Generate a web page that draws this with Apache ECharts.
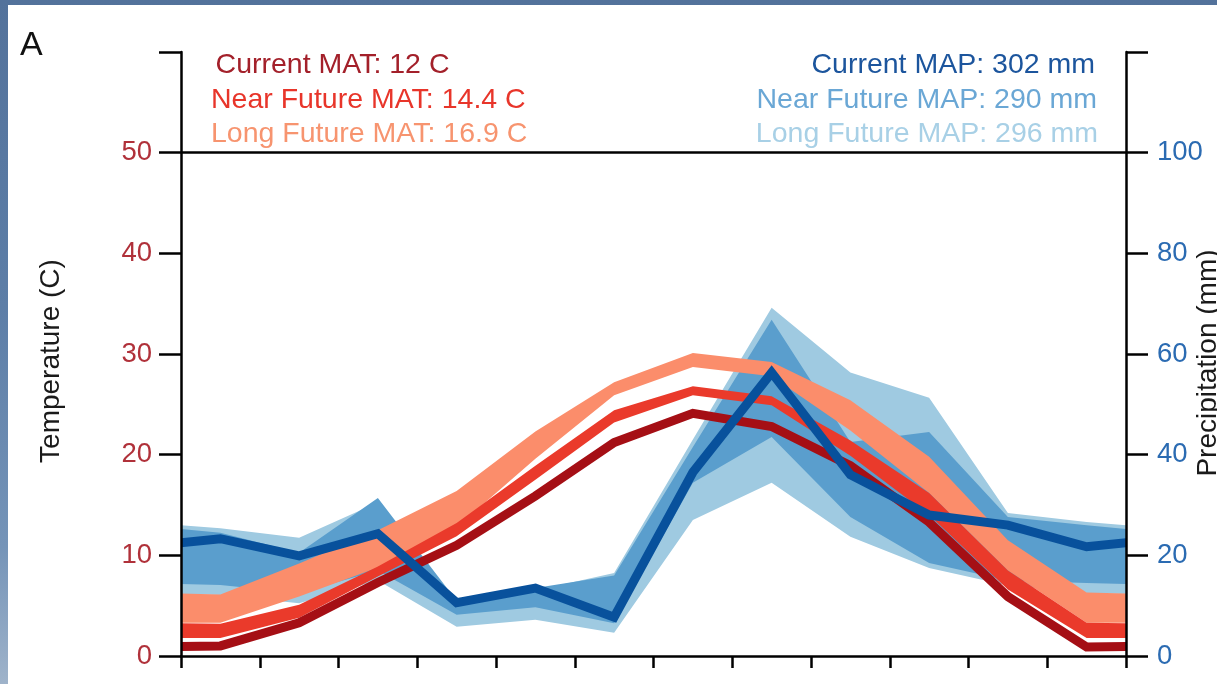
<!DOCTYPE html>
<html>
<head>
<meta charset="utf-8">
<script src="https://cdn.jsdelivr.net/npm/echarts@6/dist/echarts.min.js"></script>
<style>
  html, body { margin: 0; padding: 0; width: 1217px; height: 684px; overflow: hidden;
    background: linear-gradient(180deg, #53729b 0%, #5d7ea7 45%, #7594b8 80%, #9fb3ca 100%); }
  #chart { position: absolute; left: 8px; top: 5px; width: 1209px; height: 679px; background: #ffffff; }
</style>
</head>
<body>
<div id="chart"></div>
<script>
// Monthly climate normals, January..December
const months = ['Jan', 'Feb', 'Mar', 'Apr', 'May', 'Jun', 'Jul', 'Aug', 'Sep', 'Oct', 'Nov', 'Dec'];

// Temperature (C)
const tempCurrent  = [1.0, 3.3, 7.3, 11.0, 15.9, 21.2, 24.1, 22.8, 18.9, 13.3, 5.9, 0.9];
const tempNearLow  = [1.8, 3.8, 7.9, 11.9, 17.5, 23.2, 25.9, 24.9, 19.9, 14.0, 6.6, 1.8];
const tempNearHigh = [3.2, 5.1, 8.9, 13.2, 18.9, 24.4, 26.8, 25.8, 21.4, 16.2, 8.5, 3.3];
const tempLongLow  = [3.3, 5.9, 8.8, 12.8, 19.6, 25.9, 28.7, 27.8, 22.4, 16.2, 8.5, 3.3];
const tempLongHigh = [6.1, 9.2, 12.5, 16.4, 22.3, 27.2, 30.1, 29.2, 25.4, 19.8, 11.5, 6.3];

// Precipitation (mm)
const precipCurrent  = [23.3, 19.9, 24.3, 10.6, 13.5, 7.7, 36.5, 56.3, 36.0, 28.0, 26.0, 21.7];
const precipNearLow  = [14.1, 12.5, 17.0, 8.2, 9.7, 6.5, 34.4, 43.5, 27.6, 18.5, 15.0, 14.5];
const precipNearHigh = [24.5, 20.5, 31.4, 11.0, 13.5, 16.0, 41.5, 66.8, 42.5, 44.5, 27.6, 26.0];
const precipLongLow  = [12.1, 10.5, 15.0, 5.8, 7.2, 4.6, 27.0, 34.4, 23.7, 17.5, 14.0, 12.5];
const precipLongHigh = [25.4, 23.5, 30.5, 10.5, 13.0, 16.5, 43.0, 69.2, 56.3, 51.3, 28.4, 26.6];

// Annual summaries
const matLabels = ['Current MAT: 12 C', 'Near Future MAT: 14.4 C', 'Long Future MAT: 16.9 C'];
const mapLabels = ['Current MAP: 302 mm', 'Near Future MAP: 290 mm', 'Long Future MAP: 296 mm'];

// Axis ticks
const tempTicks = { min: 0, max: 60, step: 10, lastLabel: 50 };
const precipTicks = { min: 0, max: 120, step: 20, lastLabel: 100 };

const FONT = '"Liberation Sans", Arial, Helvetica, sans-serif';
const C = {
  tCur: '#a50f15', tNear: '#ea3a2b', tLong: '#fb8d6b',
  pCur: '#08519c', pNear: '#5a9ecd', pLong: '#9fcae1',
  tText: ['#a3202a', '#e8352a', '#f7946f'],
  pText: ['#1c559d', '#6aa7d5', '#a8d0e6'],
  tTick: '#b0313a', pTick: '#2b6bb2'
};

// Months sit at the centre of each of the 12 intervals; the cycle is
// continued by one month on both sides and clipped at the plot edges.
function cyclicRows(...cols) {
  const n = months.length;
  const row = (x, i) => [x].concat(cols.map(c => c[i]));
  const rows = [row(-0.5, n - 1)];
  for (let i = 0; i < n; i++) rows.push(row(i + 0.5, i));
  rows.push(row(n + 0.5, 0));
  return rows;
}

// Filled range between a low and a high monthly curve
function band(low, high, color, yAxisIndex) {
  const rows = cyclicRows(low, high);
  return {
    type: 'custom', yAxisIndex, clip: true, silent: true, data: rows,
    encode: { x: 0, y: [1, 2] },
    renderItem(params, api) {
      if (params.dataIndex !== 0) return null;
      const lower = rows.map(r => api.coord([r[0], r[1]]));
      const upper = rows.map(r => api.coord([r[0], r[2]])).reverse();
      return { type: 'polygon', shape: { points: lower.concat(upper) },
        style: { fill: color, stroke: null } };
    }
  };
}

// Thick monthly line
function curve(values, color, yAxisIndex, extra) {
  const rows = cyclicRows(values);
  return Object.assign({
    type: 'custom', yAxisIndex, clip: true, silent: true, data: rows,
    encode: { x: 0, y: 1 },
    renderItem(params, api) {
      if (params.dataIndex !== 0) return null;
      return { type: 'polyline', shape: { points: rows.map(r => api.coord([r[0], r[1]])) },
        style: { stroke: color, lineWidth: 9, fill: null, lineJoin: 'miter', miterLimit: 10 } };
    }
  }, extra || {});
}

function valueAxis(t, position, color, name, nameGap, margin, pad) {
  return {
    type: 'value', position, min: t.min, max: t.max, interval: t.step, z: 10,
    axisLine: { show: true, lineStyle: { color: '#000', width: 2.5 } },
    axisTick: { show: true, length: 22, lineStyle: { color: '#000', width: 2.5 } },
    axisLabel: { color, fontSize: 27.5, fontFamily: FONT, margin,
      formatter: v => (v <= t.lastLabel ? String(v) : '') },
    splitLine: { show: false },
    name, nameLocation: 'middle', nameGap, nameMoveOverlap: false,
    nameTextStyle: { color: '#1a1a1a', fontSize: 28, fontFamily: FONT, padding: pad }
  };
}

const chart = echarts.init(document.getElementById('chart'), null, { renderer: 'canvas' });

const legendText = [];
matLabels.forEach((txt, i) => legendText.push({
  type: 'text', z: 20, x: [207.6, 203, 203][i], y: 60.5 + i * 34.5,
  style: { text: txt, fill: C.tText[i], font: '28.5px ' + FONT, textAlign: 'left', textVerticalAlign: 'middle' }
}));
mapLabels.forEach((txt, i) => legendText.push({
  type: 'text', z: 20, x: [1087, 1089, 1090][i], y: 60.5 + i * 34.5,
  style: { text: txt, fill: C.pText[i], font: '28.5px ' + FONT, textAlign: 'right', textVerticalAlign: 'middle' }
}));

chart.setOption({
  animation: false,
  backgroundColor: '#ffffff',
  grid: { left: 173, right: 91, top: 47, bottom: 28, containLabel: false, outerBoundsMode: 'none' },
  xAxis: {
    type: 'value', min: 0, max: months.length, interval: 1, z: 10,
    axisLine: { show: true, onZero: false, lineStyle: { color: '#000', width: 2.5 } },
    axisTick: { show: true, length: 12, lineStyle: { color: '#000', width: 2.5 } },
    axisLabel: { show: false },
    splitLine: { show: false }
  },
  yAxis: [
    valueAxis(tempTicks, 'left', C.tTick, 'Temperature (C)', 116, 29, [0, 14, 0, 0]),
    valueAxis(precipTicks, 'right', C.pTick, 'Precipitation (mm)', 68, 31, [0, 18, 0, 0])
  ],
  graphic: [
    { type: 'text', z: 20, x: 12, y: 40.5,
      style: { text: 'A', fill: '#111', font: '34px ' + FONT, textAlign: 'left', textVerticalAlign: 'middle' } }
  ].concat(legendText),
  series: [
    band(precipLongLow, precipLongHigh, C.pLong, 1),
    band(precipNearLow, precipNearHigh, C.pNear, 1),
    band(tempLongLow, tempLongHigh, C.tLong, 0),
    band(tempNearLow, tempNearHigh, C.tNear, 0),
    curve(tempCurrent, C.tCur, 0, {
      markLine: {
        silent: true, symbol: 'none', label: { show: false },
        lineStyle: { color: '#000', width: 2.5, type: 'solid' },
        data: [{ yAxis: tempTicks.lastLabel }]
      }
    }),
    curve(precipCurrent, C.pCur, 1)
  ]
});
</script>
</body>
</html>
